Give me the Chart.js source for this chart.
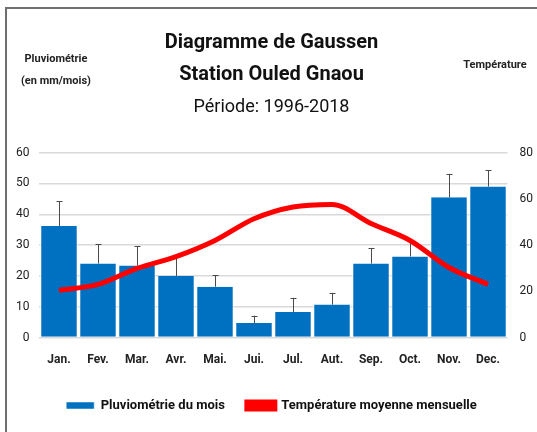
<!DOCTYPE html>
<html>
<head>
<meta charset="utf-8">
<script src="https://cdn.jsdelivr.net/npm/chart.js@4"></script>
<style>
  body { margin: 0; background: #fff; }
  #wrap { position: relative; width: 537px; height: 432px; }
  #frame { position: absolute; left: 5px; top: 7px; right: 0; bottom: 0; border-left: 2px solid #6f6f6f; border-top: 2px solid #6f6f6f; pointer-events: none; }
  .axt { position: absolute; font: bold 11px Roboto, sans-serif; color: #222; text-align: center; line-height: 22px; }
</style>
</head>
<body>
<div id="wrap">
  <canvas id="gaussen" width="537" height="432"></canvas>
  <div id="frame"></div>
  <div class="axt" style="left:14px; top:48px; width:84px;">Pluviométrie<br>(en mm/mois)</div>
  <div class="axt" style="left:456px; top:54px; width:78px;">Température</div>
</div>
<script>
// Données mensuelles, station Ouled Gnaou (1996-2018)
const mois = ['Jan.', 'Fev.', 'Mar.', 'Avr.', 'Mai.', 'Jui.', 'Jul.', 'Aut.', 'Sep.', 'Oct.', 'Nov.', 'Dec.'];
const pluie = [36.2, 24.0, 23.4, 20.0, 16.5, 4.7, 8.3, 10.7, 24.0, 26.3, 45.5, 49.0];
const pluieMax = [44.2, 30.2, 29.7, 26.4, 20.3, 7.1, 12.9, 14.5, 29.1, 31.3, 53.1, 54.2];
const temperature = [20.5, 23.0, 29.9, 35.0, 42.0, 51.4, 56.5, 57.6, 49.3, 42.0, 30.3, 23.0];
const ticksPluie = [0, 10, 20, 30, 40, 50, 60];
const ticksTemp = [0, 20, 40, 60, 80];

const police = 'Roboto, sans-serif';

// Barres d'erreur au-dessus des barres de pluviométrie
const barresErreur = {
  id: 'barresErreur',
  afterDatasetDraw(chart, args) {
    if (args.index !== 0) return;
    const ctx = chart.ctx;
    const y = chart.scales.y;
    const meta = chart.getDatasetMeta(0);
    ctx.save();
    ctx.strokeStyle = '#4a4a4a';
    ctx.lineWidth = 1;
    meta.data.forEach((bar, i) => {
      const x = Math.round(bar.x) + 0.5;
      const y0 = y.getPixelForValue(pluie[i]);
      const y1 = y.getPixelForValue(pluieMax[i]);
      ctx.beginPath();
      ctx.moveTo(x, y0);
      ctx.lineTo(x, y1);
      ctx.moveTo(x - 3, Math.round(y1) + 0.5);
      ctx.lineTo(x + 3, Math.round(y1) + 0.5);
      ctx.stroke();
    });
    ctx.restore();
  }
};

new Chart(document.getElementById('gaussen'), {
  data: {
    labels: mois,
    datasets: [{
      type: 'bar',
      label: 'Pluviométrie du mois',
      data: pluie,
      backgroundColor: '#0070c0',
      borderColor: '#ffffff',
      borderWidth: { left: 1, right: 1, top: 0, bottom: 0 },
      categoryPercentage: 1,
      barPercentage: 0.96,
      yAxisID: 'y',
      order: 1
    }, {
      type: 'line',
      label: 'Température moyenne mensuelle',
      data: temperature,
      borderColor: '#ff0000',
      backgroundColor: '#ff0000',
      borderWidth: 5,
      pointRadius: 0,
      tension: 0.4,
      cubicInterpolationMode: 'monotone',
      yAxisID: 'y1',
      order: 0
    }]
  },
  options: {
    responsive: false,
    animation: false,
    layout: { padding: { left: 6, right: 0, top: 27, bottom: 10 } },
    plugins: {
      title: {
        display: true,
        text: ['Diagramme de Gaussen', 'Station Ouled Gnaou'],
        color: '#111',
        font: { family: police, size: 20, weight: 'bold', lineHeight: 1.6 },
        padding: { top: 0, bottom: 0 }
      },
      subtitle: {
        display: true,
        text: 'Période: 1996-2018',
        color: '#111',
        font: { family: police, size: 18, lineHeight: 1.2 },
        padding: { top: 6, bottom: 34 }
      },
      legend: {
        position: 'bottom',
        labels: {
          color: '#111',
          font: { family: police, size: 13, weight: 'bold' },
          boxWidth: 28,
          boxHeight: 7,
          padding: 22,
          sort: (a, b) => a.datasetIndex - b.datasetIndex
        }
      },
      tooltip: { enabled: false }
    },
    scales: {
      x: {
        grid: { display: false },
        border: { display: false },
        ticks: { color: '#222', font: { family: police, size: 12, weight: 'bold' }, padding: 7 },
        afterFit: axis => { axis.height += 3; }
      },
      y: {
        position: 'left',
        min: 0,
        max: 60,
        afterBuildTicks: axis => { axis.ticks = ticksPluie.map(v => ({ value: v })); },
        grid: { color: '#d9d9d9', lineWidth: 1.5, drawTicks: false },
        border: { display: false },
        ticks: { color: '#222', font: { family: police, size: 12 }, padding: 10 }
      },
      y1: {
        position: 'right',
        min: 0,
        max: 80,
        afterBuildTicks: axis => { axis.ticks = ticksTemp.map(v => ({ value: v })); },
        grid: { display: false },
        border: { display: false },
        ticks: { color: '#222', font: { family: police, size: 12 }, padding: 4 }
      }
    }
  },
  plugins: [barresErreur]
});
</script>
</body>
</html>
